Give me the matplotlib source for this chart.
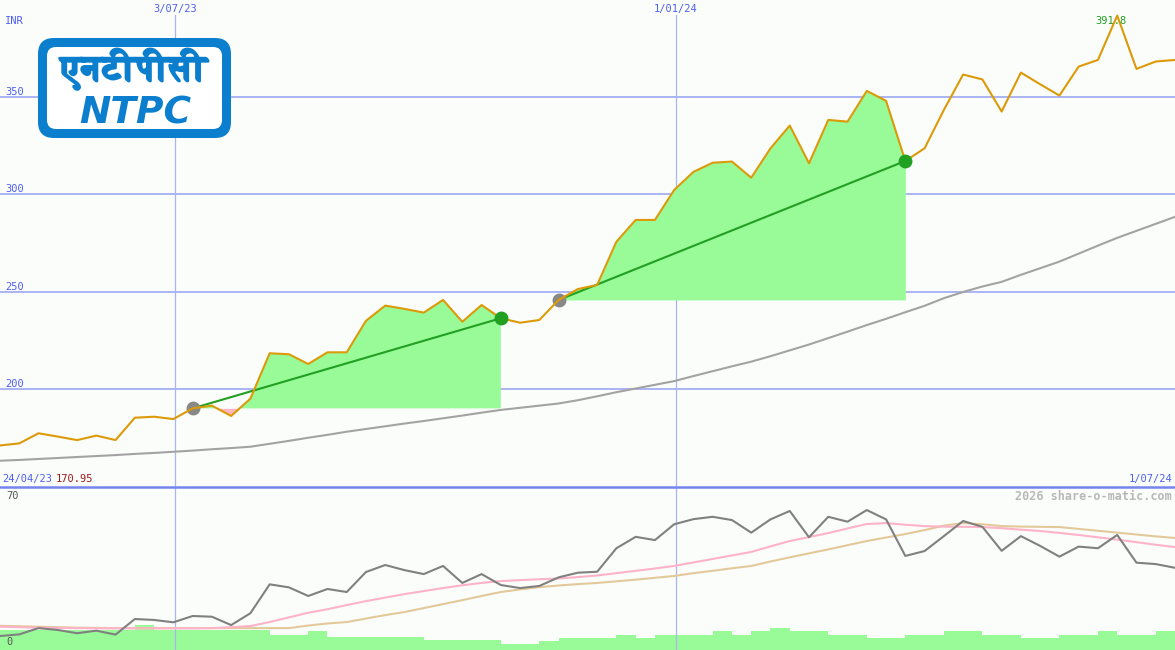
## imports
import numpy as np
import matplotlib
matplotlib.use('Agg')
from matplotlib import pyplot as plt
from matplotlib import font_manager
from matplotlib import patheffects
from matplotlib.patches import FancyBboxPatch
from matplotlib.ft2font import FT2Font


## data (weekly closes, NTPC, INR)
price = [170.95, 172.0, 177.2, 175.5, 173.7, 176.0, 173.7, 185.2, 185.7, 184.5,
         190.0, 191.4, 186.1, 195.0, 218.3, 217.8, 212.8, 218.8, 218.8, 235.0,
         242.8, 241.1, 239.2, 245.7, 234.5, 243.1, 236.3, 234.0, 235.4, 245.7,
         251.3, 253.4, 275.6, 286.8, 286.8, 302.2, 311.5, 316.2, 316.8, 308.5,
         323.6, 335.3, 315.9, 338.2, 337.3, 353.1, 348.0, 317.1, 323.6, 343.3,
         361.5, 359.0, 342.5, 362.5, 356.5, 350.7, 365.6, 369.0, 391.8, 364.4,
         368.2, 369.0]

# long moving average (grey line, top panel)
ma_long = [163.1, 163.5, 164.0, 164.5, 165.0, 165.5, 166.0, 166.6, 167.1, 167.7,
           168.3, 169.0, 169.6, 170.3, 171.8, 173.3, 174.9, 176.4, 178.0, 179.4,
           180.8, 182.2, 183.5, 184.9, 186.3, 187.8, 189.2, 190.3, 191.4, 192.5,
           194.2, 196.2, 198.3, 200.2, 202.1, 204.0, 206.6, 209.1, 211.6, 214.0,
           216.8, 219.8, 222.8, 226.1, 229.4, 232.8, 236.0, 239.4, 242.7, 246.6,
           249.8, 252.6, 255.0, 258.6, 262.0, 265.4, 269.5, 273.6, 277.6, 281.2,
           284.8, 288.4]

# lower panel indicator + its two averages
osc = [6.0, 6.7, 9.4, 8.6, 7.2, 8.3, 6.6, 13.3, 12.9, 11.9,
       14.6, 14.3, 10.7, 15.8, 28.2, 26.9, 23.2, 26.2, 24.9, 33.5,
       36.5, 34.3, 32.6, 36.1, 28.8, 32.6, 27.9, 26.6, 27.5, 31.2,
       33.2, 33.6, 43.7, 48.6, 47.2, 54.0, 56.2, 57.2, 55.8, 50.4,
       56.1, 59.7, 48.4, 57.2, 55.1, 60.1, 56.1, 40.4, 42.5, 48.9,
       55.4, 52.9, 42.6, 48.9, 44.7, 40.1, 44.4, 43.7, 49.4, 37.5,
       36.9, 35.3]
osc_fast = [10.0, 9.8, 9.6, 9.5, 9.4, 9.3, 9.3, 9.3, 9.3, 9.3,
            9.3, 9.4, 9.8, 10.3, 12.0, 14.0, 16.0, 17.5, 19.3, 21.0,
            22.5, 24.0, 25.3, 26.6, 27.8, 28.8, 29.6, 30.0, 30.4, 30.7,
            31.3, 32.0, 33.0, 34.0, 35.0, 36.1, 37.6, 39.1, 40.6, 42.1,
            44.5, 46.8, 48.5, 50.2, 52.2, 54.1, 54.5, 53.8, 53.2, 53.0,
            52.9, 52.8, 52.3, 51.7, 51.1, 50.3, 49.4, 48.4, 47.4, 46.3,
            45.2, 44.2]
osc_slow = [10.4, 10.2, 10.0, 9.8, 9.6, 9.5, 9.4, 9.4, 9.4, 9.4,
            9.4, 9.4, 9.4, 9.4, 9.4, 9.4, 10.5, 11.4, 12.0, 13.5,
            15.0, 16.3, 18.0, 19.7, 21.4, 23.2, 24.9, 26.0, 27.0, 27.7,
            28.3, 28.8, 29.5, 30.2, 31.0, 31.8, 33.0, 34.0, 35.1, 36.1,
            38.0, 39.8, 41.5, 43.2, 45.0, 46.8, 48.3, 49.8, 51.5, 53.4,
            54.5, 54.0, 53.2, 53.0, 52.9, 52.8, 52.0, 51.2, 50.4, 49.6,
            48.8, 48.1]

# weekly volume (relative)
volume = [20, 20, 20, 20, 20, 20, 20, 25, 20, 20,
          20, 20, 20, 20, 15, 15, 19, 13, 13, 13,
          13, 13, 10, 10, 10, 10, 6, 6, 9, 12.3,
          12.3, 12.3, 15, 12.3, 15, 15, 15, 19, 15, 19,
          22.3, 19, 19, 15, 15, 12.3, 12.3, 15, 15, 19,
          19, 15, 15, 11.7, 11.7, 15, 15, 19, 15, 15,
          19]

# trend segments (start week, end week)
trends = [(10, 26), (29, 47)]

price_ticks = [200, 250, 300, 350]
date_labels = ['3/07/23', '1/01/24']
start_label = '24/04/23'
end_label = '1/07/24'

## layout
W, H = 1175, 650
date_pos = [9.08, 35.08]
x = np.arange(len(price))
bg = '#fbfdfb'
grid = '#a9b5f3'
blue_txt = '#4d5ff2'
mono = 'DejaVu Sans Mono'
fs = 7.5


def find_font(ch):
    # pick any installed font file that actually has the glyph
    hits = []
    for f in font_manager.fontManager.ttflist:
        try:
            if ord(ch) in FT2Font(f.fname).get_charmap():
                hits.append(f)
        except Exception:
            pass
    if not hits:
        return None
    hits.sort(key=lambda f: 0 if f.weight in ('bold', 700) else 1)
    return hits[0].fname


fig = plt.figure(figsize=(W / 100, H / 100), dpi=100)
fig.patch.set_facecolor(bg)

ax = fig.add_axes([0, 163 / H, 1, 487 / H])
axv = fig.add_axes([0, 0, 1, 163 / H])
ax2 = fig.add_axes([0, 0, 1, 163 / H])
for a in (ax, axv, ax2):
    a.axis('off')
    a.set_xlim(0, len(price) - 1)
ax.set_ylim(149.6, 399.8)
ax2.set_ylim(0, 70)
axv.set_ylim(0, 163)

## top panel
for v in price_ticks:
    ax.axhline(v, color=grid, lw=1.4, zorder=1)
    ax.annotate(str(v), (0, v), xytext=(5, 2), textcoords='offset pixels',
                va='baseline', ha='left', color=blue_txt, family=mono, fontsize=fs)
for p, lbl in zip(date_pos, date_labels):
    ax.axvline(p, ymax=1 - 15 / 487, color=grid, lw=0.9, zorder=1)
    ax2.axvline(p, color=grid, lw=0.9, zorder=1)
    ax.annotate(lbl, (p, 1), xycoords=('data', 'axes fraction'), xytext=(0, -9),
                textcoords='offset pixels', ha='center', va='center',
                color=blue_txt, family=mono, fontsize=fs)

ax.plot(x, ma_long, color='#a3a3a3', lw=1.5, zorder=2)

price_arr = np.array(price)
for s, e in trends:
    xs = x[s:e + 1]
    ys = price_arr[s:e + 1]
    base = price[s]
    ax.fill_between(xs, ys, base, where=ys >= base, interpolate=True,
                    color='#98fb98', lw=0, zorder=2)
    ax.fill_between(xs, ys, base, where=ys < base, interpolate=True,
                    color='#ffb6c1', lw=0, zorder=2)
    ax.plot([s, e], [price[s], price[e]], color='#22a022', lw=1.5, zorder=3)
    ax.plot(s, price[s], 'o', color='#888888', ms=9, zorder=3)

ax.plot(x, price, color='#dc9a08', lw=1.5, zorder=4)
for s, e in trends:
    ax.plot(e, price[e], 'o', color='#22a022', ms=9, zorder=5)

top = int(np.argmax(price))
ax.annotate(f'{price[top]:.1f}', (top, price[top]), xytext=(-6, -5),
            textcoords='offset pixels', ha='center', va='center',
            color='#22a022', family=mono, fontsize=fs, zorder=6)

ax.text(5 / W, 1 - 21 / 487, 'INR', transform=ax.transAxes, ha='left', va='center',
        color=blue_txt, family=mono, fontsize=fs)
ax.annotate(start_label, (0, 0), xycoords='axes fraction', xytext=(2, 8),
            textcoords='offset pixels', ha='left', va='center',
            color=blue_txt, family=mono, fontsize=fs)
ax.annotate(f'{price[0]:.2f}', (0, 0), xycoords='axes fraction', xytext=(56, 8),
            textcoords='offset pixels', ha='left', va='center',
            color='#a01818', family=mono, fontsize=fs)
ax.annotate(end_label, (1, 0), xycoords='axes fraction', xytext=(-3, 8),
            textcoords='offset pixels', ha='right', va='center',
            color=blue_txt, family=mono, fontsize=fs)

## lower panel
axv.bar(x[:-1], volume, width=1.0, align='edge', color='#98fb98', lw=0)
ax2.plot(x, osc_slow, color='#e3c99a', lw=1.5, zorder=2)
ax2.plot(x, osc_fast, color='#ffb3c8', lw=1.5, zorder=3)
ax2.plot(x, osc, color='#808080', lw=1.5, zorder=4)
ax2.axhline(70, color='#7585ee', lw=1.8, clip_on=False, zorder=5)
ax2.annotate('70', (0, 1), xycoords='axes fraction', xytext=(6, -9),
             textcoords='offset pixels', ha='left', va='center',
             color='#555555', family=mono, fontsize=fs)
ax2.annotate('0', (0, 0), xycoords='axes fraction', xytext=(6, 8),
             textcoords='offset pixels', ha='left', va='center',
             color='#555555', family=mono, fontsize=fs)
ax2.annotate('2026 share-o-matic.com', (1, 1), xycoords='axes fraction', xytext=(-3, -9),
             textcoords='offset pixels', ha='right', va='center',
             color='#b8b8b8', family=mono, fontsize=8.5, fontweight='bold')

## logo
lg = fig.add_axes([0, 0, 1, 1], zorder=10)
lg.set_xlim(0, W)
lg.set_ylim(H, 0)
lg.axis('off')
logo_blue = '#0b7fcd'
lg.add_patch(FancyBboxPatch((38, 38), 193, 100, boxstyle='round,pad=0,rounding_size=16',
                            fc=logo_blue, ec='none'))
lg.add_patch(FancyBboxPatch((47, 47), 175, 82, boxstyle='round,pad=0,rounding_size=9',
                            fc='white', ec='none'))
hindi = 'एनटीपीसी'
dev = find_font('\u090f')
if dev:
    hp = font_manager.FontProperties(fname=dev, size=25)
else:
    hp = font_manager.FontProperties(family='DejaVu Sans', weight='bold', size=25)
lg.text(134, 69, hindi, fontproperties=hp, color=logo_blue, ha='center', va='center',
        path_effects=[patheffects.withStroke(linewidth=1.6, foreground=logo_blue)])
lg.text(135, 113, 'NTPC', family='DejaVu Sans', fontweight='bold', style='italic',
        fontsize=27, color=logo_blue, ha='center', va='center')

fig.savefig('out.png', dpi=100, facecolor=bg)
